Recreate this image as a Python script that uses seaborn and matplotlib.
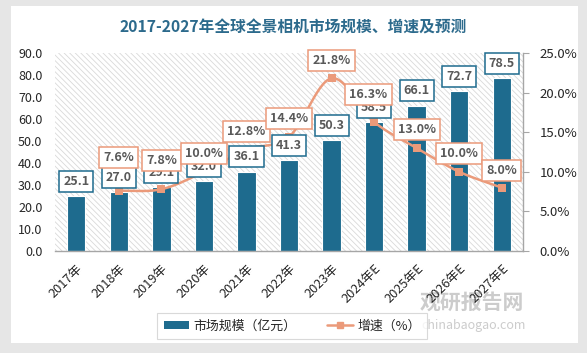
import numpy as np
import pandas as pd
import seaborn as sns
import matplotlib
matplotlib.use("Agg")
import matplotlib.pyplot as plt
from matplotlib.patches import Rectangle
from matplotlib.lines import Line2D
from matplotlib.patches import Patch

# ---------------- data ----------------
years = ['2017年', '2018年', '2019年', '2020年', '2021年', '2022年', '2023年',
         '2024年E', '2025年E', '2026年E', '2027年E']
market = [25.1, 27.0, 29.1, 32.0, 36.1, 41.3, 50.3, 58.5, 66.1, 72.7, 78.5]
growth = [np.nan, 7.6, 7.8, 10.0, 12.8, 14.4, 21.8, 16.3, 13.0, 10.0, 8.0]
left_ticks = [0, 10, 20, 30, 40, 50, 60, 70, 80, 90]
right_ticks = [0, 5, 10, 15, 20, 25]
title = '2017-2027年全球全景相机市场规模、增速及预测'
bar_name = '市场规模（亿元）'
line_name = '增速（%）'

# label offsets (layout only, in points)
growth_label_dx = [0, 0, 0, 0, 0, 0, 0, -4, 0, 0, 0]
growth_label_dy = [0, 24, 21, 13, 13, 13, 12.5, 19.5, 13, 13, 12]

sns.set_theme(style='white')
plt.rcParams['font.family'] = ['Noto Sans CJK SC', 'DejaVu Sans']
plt.rcParams['hatch.linewidth'] = 0.6

BAR = '#1e6b8e'
LINE = '#eb9a7a'
TXT = '#595959'

fig = plt.figure(figsize=(5.87, 3.53), dpi=100)
fig.patch.set_facecolor('#e6e6e6')
# card
card = Rectangle((11 / 587, 1 - 343 / 353), (578 - 11) / 587, (343 - 6) / 353,
                 transform=fig.transFigure, facecolor='white', edgecolor='none', zorder=-5)
fig.patches.append(card)

ax = fig.add_axes([55 / 587, 1 - 251 / 353, (523 - 55) / 587, (251 - 53) / 353])
ax.set_facecolor('none')
ax2 = ax.twinx()

df = pd.DataFrame({'year': years, 'market': market, 'growth': growth})

# hatch background
bg = Rectangle((0, 0), 1, 1, transform=ax.transAxes, facecolor='white',
               edgecolor='#d9d9d9', hatch='\\\\\\\\\\\\', linewidth=0, zorder=0)
ax.add_patch(bg)

sns.barplot(data=df, x='year', y='market', ax=ax, color=BAR, width=0.43,
            saturation=1, edgecolor='white', linewidth=0.8, zorder=2)

ax.set_xlim(-0.5, len(years) - 0.5)
ax.set_ylim(0, 90)
ax.set_yticks(left_ticks)
ax.set_yticklabels([f'{v:.1f}' for v in left_ticks], fontsize=9, color='#262626')
ax.set_xlabel('')
ax.set_ylabel('')
ax.tick_params(axis='x', length=0, pad=8)
ax.tick_params(axis='y', length=0, pad=9)
for lab in ax.get_xticklabels():
    lab.set_rotation(45)
    lab.set_ha('right')
    lab.set_rotation_mode('anchor')
    lab.set_fontsize(9.2)
    lab.set_color('#262626')
for s in ['top', 'left', 'right']:
    ax.spines[s].set_visible(False)
ax.spines['bottom'].set_color('#a6a6a6')
ax.spines['bottom'].set_linewidth(1)

# smooth growth line (Catmull-Rom through the data points)
gx = np.array([i for i, g in enumerate(growth) if not np.isnan(g)], dtype=float)
gy = np.array([g for g in growth if not np.isnan(g)], dtype=float)
px = np.concatenate([[2 * gx[0] - gx[1]], gx, [2 * gx[-1] - gx[-2]]])
py = np.concatenate([[2 * gy[0] - gy[1]], gy, [2 * gy[-1] - gy[-2]]])
sx, sy = [], []
for i in range(1, len(px) - 2):
    t = np.linspace(0, 1, 30)
    for arr, out in ((px, sx), (py, sy)):
        p0, p1, p2, p3 = arr[i - 1], arr[i], arr[i + 1], arr[i + 2]
        out.extend(0.5 * ((2 * p1) + (-p0 + p2) * t + (2 * p0 - 5 * p1 + 4 * p2 - p3) * t ** 2
                          + (-p0 + 3 * p1 - 3 * p2 + p3) * t ** 3))
ax2.plot(sx, sy, color=LINE, lw=1.8, zorder=3)
sns.scatterplot(x=gx, y=gy, ax=ax2, marker='s', s=40, color=LINE, edgecolor=LINE,
                linewidth=0, zorder=4, legend=False)
ax2.set_ylim(0, 25)
ax2.set_yticks(right_ticks)
ax2.set_yticklabels([f'{v:.1f}%' for v in right_ticks], fontsize=9.5, color='#262626')
ax2.tick_params(axis='y', length=4, width=0.8, color='#a6a6a6', pad=8, direction='out', right=True)
ax2.grid(False)
ax.grid(False)
for s in ['top', 'left', 'bottom']:
    ax2.spines[s].set_visible(False)
ax2.spines['right'].set_color('#a6a6a6')
ax2.spines['right'].set_linewidth(1)

# bar labels
for i, v in enumerate(market):
    ax2.annotate(f'{v:.1f}', xy=(i, v), xycoords=ax.transData, xytext=(0, 10.5),
                 textcoords='offset points', ha='center', va='center', fontsize=9,
                 fontweight='bold', color=TXT, zorder=5,
                 bbox=dict(boxstyle='square,pad=0.32', fc='white', ec=BAR, lw=1.1))
# growth labels
for i, g in enumerate(growth):
    if np.isnan(g):
        continue
    ax2.annotate(f'{g:.1f}%', xy=(i, g), xytext=(growth_label_dx[i], growth_label_dy[i]),
                 textcoords='offset points', ha='center', va='center', fontsize=9,
                 fontweight='bold', color=TXT, zorder=6,
                 bbox=dict(boxstyle='square,pad=0.32', fc='white', ec=LINE, lw=1.1))

# title
fig.text(0.5, 1 - 28 / 353, title, ha='center', va='center', fontsize=11.3,
         fontweight='bold', color='#2c6a8c')

# watermark (behind the axes)
fig.text(472 / 587, 1 - 302 / 353, '观研报告网', ha='center', va='center', fontsize=15,
         fontweight='bold', color='#cccccc', zorder=-1)
fig.text(474 / 587, 1 - 325 / 353, 'chinabaogao.com', ha='center', va='center', fontsize=9,
         color='#cccccc', zorder=-1)

# legend
handles = [Patch(facecolor=BAR, edgecolor='none'),
           Line2D([0], [0], color=LINE, lw=1.8, marker='s', markersize=5)]
leg = fig.legend(handles, [bar_name, line_name], loc='center',
                 bbox_to_anchor=(292 / 587, 1 - 326 / 353), ncol=2, frameon=True,
                 fontsize=9.3, handlelength=2.0, handleheight=0.5, columnspacing=2.4,
                 handletextpad=0.3, borderpad=0.5, borderaxespad=0, fancybox=False)
leg.get_frame().set_edgecolor('#d0d0d0')
leg.get_frame().set_linewidth(0.8)
leg.set_zorder(0.5)

fig.savefig('out.png', dpi=100, facecolor=fig.get_facecolor())
